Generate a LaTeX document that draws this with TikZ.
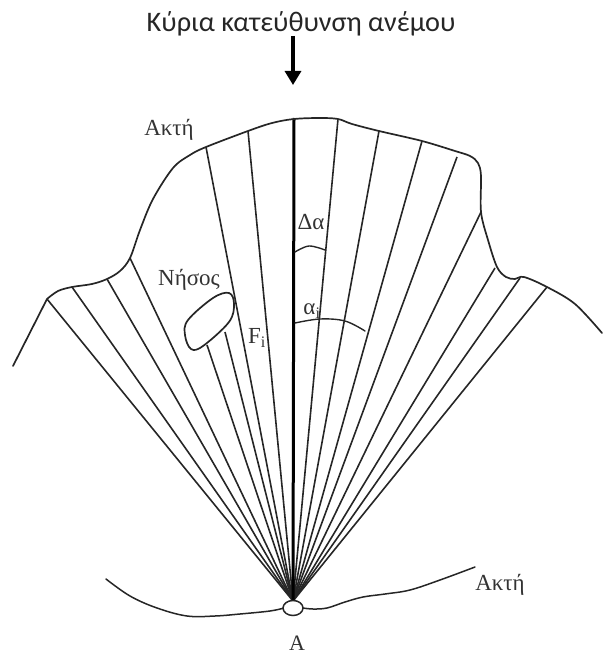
\documentclass[tikz,border=0pt]{standalone}
\usepackage{fontspec}
\setmainfont{Liberation Serif}
\newfontfamily\titlefont{Carlito}
\usetikzlibrary{arrows.meta,shapes.geometric}
\tikzset{
  coast/.style={draw=black!85,line width=1.7pt,line cap=round,line join=round},
  ray/.style={draw=black!85,line width=1.6pt},
  lab/.style={inner sep=0pt,text=black!80,font=\fontsize{23}{25}\selectfont},
}
\begin{document}
\begin{tikzpicture}[x=1pt,y=-1pt]
\useasboundingbox (0,0) rectangle (602,655);
\coordinate (A) at (293,601);
% rays
\foreach \p in {(47,299),(72,287),(107,279),(130,258),(207,345),(225,332),(206,147),(248,131),(338,119),(379,131),(422,141),(457,157),(481,212),(495,268),(520,278),(547,287)}{
  \draw[ray] (A) -- \p;
}
\draw[draw=black,line width=3pt] (A) -- (294,118);
% upper coast
\draw[coast] (13,366) -- (47,299) plot[smooth,tension=0.55] coordinates {(47,299) (58,291) (72,287) (92,284) (107,279) (120,271) (130,258) (140,230) (153,199) (173,168) (190,155) (206,147) (248,131) (272,123) (294,119) (320,118) (338,119) (352,124) (379,131) (422,141) (455,151) (470,156) (478,163) (481,176) (481,212) (488,240) (497,267) (506,277) (515,279) (524,277) (547,287) (575,304) (602,333)};
% lower coast
\draw[coast,line width=1.5pt] plot[smooth,tension=0.6] coordinates {(106,579) (130,596) (157,608) (187,616) (215,616) (240,614) (270,611) (284,608)};
\draw[coast,line width=1.5pt] plot[smooth,tension=0.6] coordinates {(303,608) (313,609) (327,608) (345,602) (363,597) (385,594) (410,590) (440,580) (475,567)};
\node[draw=black!85,fill=white,line width=1.5pt,ellipse,minimum width=20pt,minimum height=15pt,inner sep=0pt] (port) at (293,608) {};
% island
\draw[coast,fill=white] plot[smooth cycle,tension=0.6] coordinates {(229,293) (234,304) (229,322) (203,346) (191,349) (185,335) (188,320) (213,298)};
% arcs
\draw[coast,line width=1.4pt] plot[smooth,tension=0.6] coordinates {(295,252) (309,246) (325,250)};
\draw[coast,line width=1.4pt] plot[smooth,tension=0.6] coordinates {(295,323) (320,319) (345,321) (365,331)};
% arrow
\coordinate (w1) at (293,36);
\coordinate (w2) at (293,85);
\draw[line width=3.2pt,-{Triangle[length=14pt,width=16pt]}] (w1) -- (w2);
% text
\node[inner sep=0pt,text=black!85,font=\titlefont\fontsize{28.3}{30}\selectfont] (title) at (301,24) {Κύρια κατεύθυνση ανέμου};
\node[lab] (t1) at (169,130) {Ακτή};
\node[lab] (t2) at (189,280) {Νήσος};
\node[lab] (t3) at (257,338) {F\textsubscript{i}};
\node[lab] (t4) at (311,222) {Δα};
\node[lab] (t5) at (312,311) {α\textsubscript{i}};
\node[lab] (t6) at (500,585) {Ακτή};
\node[lab,font=\fontsize{22}{24}\selectfont] (t7) at (297,643) {Α};
\end{tikzpicture}
\end{document}
